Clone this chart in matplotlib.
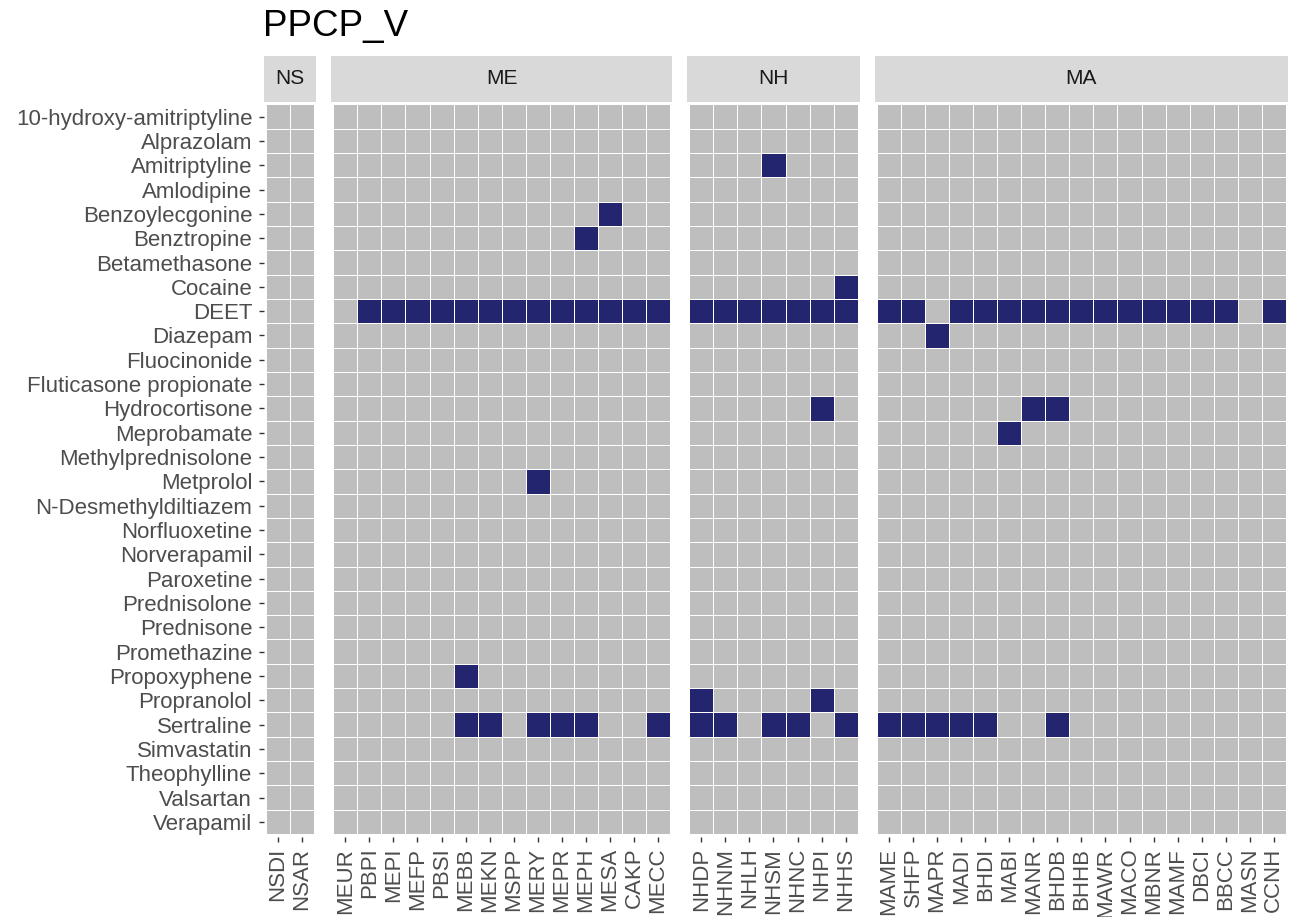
import numpy as np
import matplotlib
matplotlib.use("Agg")
import matplotlib.pyplot as plt
from matplotlib.colors import ListedColormap

plt.rcParams['font.family'] = ['Liberation Sans', 'DejaVu Sans']

compounds = [
    "10-hydroxy-amitriptyline", "Alprazolam", "Amitriptyline", "Amlodipine",
    "Benzoylecgonine", "Benztropine", "Betamethasone", "Cocaine", "DEET",
    "Diazepam", "Fluocinonide", "Fluticasone propionate", "Hydrocortisone",
    "Meprobamate", "Methylprednisolone", "Metprolol", "N-Desmethyldiltiazem",
    "Norfluoxetine", "Norverapamil", "Paroxetine", "Prednisolone", "Prednisone",
    "Promethazine", "Propoxyphene", "Propranolol", "Sertraline", "Simvastatin",
    "Theophylline", "Valsartan", "Verapamil",
]

regions = ["NS", "ME", "NH", "MA"]
sites_ns = ["NSDI", "NSAR"]
sites_me = ["MEUR", "PBPI", "MEPI", "MEFP", "PBSI", "MEBB", "MEKN", "MSPP",
            "MERY", "MEPR", "MEPH", "MESA", "CAKP", "MECC"]
sites_nh = ["NHDP", "NHNM", "NHLH", "NHSM", "NHNC", "NHPI", "NHHS"]
sites_ma = ["MAME", "SHFP", "MAPR", "MADI", "BHDI", "MABI", "MANR", "BHDB",
            "BHHB", "MAWR", "MACO", "MBNR", "MAMF", "DBCI", "BBCC", "MASN", "CCNH"]
region_sites = [sites_ns, sites_me, sites_nh, sites_ma]

# sites where each compound was detected
detected = {
    "Amitriptyline": ["NHSM"],
    "Benzoylecgonine": ["MESA"],
    "Benztropine": ["MEPH"],
    "Cocaine": ["NHHS"],
    "DEET": ["PBPI", "MEPI", "MEFP", "PBSI", "MEBB", "MEKN", "MSPP", "MERY",
             "MEPR", "MEPH", "MESA", "CAKP", "MECC",
             "NHDP", "NHNM", "NHLH", "NHSM", "NHNC", "NHPI", "NHHS",
             "MAME", "SHFP", "MADI", "BHDI", "MABI", "MANR", "BHDB", "BHHB",
             "MAWR", "MACO", "MBNR", "MAMF", "DBCI", "BBCC", "CCNH"],
    "Diazepam": ["MAPR"],
    "Hydrocortisone": ["NHPI", "MANR", "BHDB"],
    "Meprobamate": ["MABI"],
    "Metprolol": ["MERY"],
    "Propoxyphene": ["MEBB"],
    "Propranolol": ["NHDP", "NHPI"],
    "Sertraline": ["MEBB", "MEKN", "MERY", "MEPR", "MEPH", "MECC",
                   "NHDP", "NHNM", "NHSM", "NHNC", "NHHS",
                   "MAME", "SHFP", "MAPR", "MADI", "BHDI", "BHDB"],
}

W, H = 1295, 917
fig = plt.figure(figsize=(W / 100, H / 100), dpi=100)

cmap = ListedColormap(["#BEBEBE", "#23256F"])
left = 263.5
unit = 24.05
gap = 14.5
top, bottom = 102.0, 836.5
strip_top = 56.0
nrow = len(compounds)
fs = 16

x = left
for k, (reg, sites) in enumerate(zip(regions, region_sites)):
    w = (len(sites) + 0.2) * unit
    ax = fig.add_axes([x / W, 1 - bottom / H, w / W, (bottom - top) / H])
    z = np.array([[1 if s in detected.get(c, []) else 0 for s in sites]
                  for c in compounds])
    xe = np.arange(len(sites) + 1) - 0.5
    ye = np.arange(nrow + 1) - 0.5
    ax.pcolormesh(xe, ye, z, cmap=cmap, vmin=0, vmax=1,
                  edgecolors="white", linewidth=0.6)
    ax.set_xlim(-0.6, len(sites) - 0.4)
    ax.set_ylim(nrow - 0.4, -0.6)
    ax.set_xticks(range(len(sites)))
    ax.set_xticklabels(sites, rotation=90, fontsize=fs, color="#4D4D4D")
    ax.set_yticks(range(nrow))
    if k == 0:
        ax.set_yticklabels(compounds, fontsize=fs, color="#4D4D4D")
    else:
        ax.tick_params(axis="y", left=False, labelleft=False)
    ax.tick_params(length=3.6, width=1.0, color="#333333", pad=4.5)
    for sp in ax.spines.values():
        sp.set_visible(False)

    sax = fig.add_axes([x / W, 1 - (top - 0.5) / H, w / W, (top - 0.5 - strip_top) / H])
    sax.set_facecolor("#D9D9D9")
    sax.set_xticks([])
    sax.set_yticks([])
    for sp in sax.spines.values():
        sp.set_visible(False)
    sax.text(0.5, 0.5, reg, ha="center", va="center", fontsize=15,
             color="#1A1A1A", transform=sax.transAxes)

    if k == 0:
        fig.text(x / W, 1 - 36 / H, "PPCP_V", fontsize=26.5, color="black",
                 ha="left", va="baseline")
    x += w + gap

fig.savefig("out.png", dpi=100)
